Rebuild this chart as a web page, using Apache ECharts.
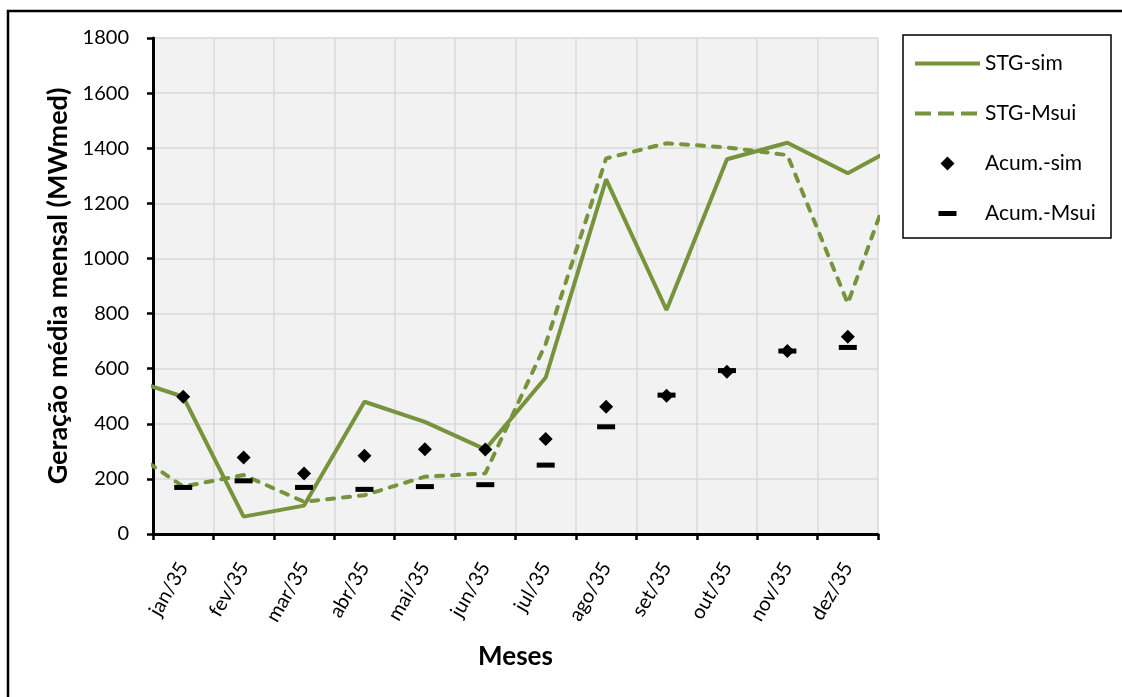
<!DOCTYPE html>
<html>
<head>
<meta charset="utf-8">
<script src="https://cdn.jsdelivr.net/npm/echarts@6/dist/echarts.min.js"></script>
<style>
  html, body { margin: 0; padding: 0; background: #fff; }
  #chart { width: 1122px; height: 697px; }
</style>
</head>
<body>
<div id="chart"></div>
<script>
const months = ['jan/35', 'fev/35', 'mar/35', 'abr/35', 'mai/35', 'jun/35',
  'jul/35', 'ago/35', 'set/35', 'out/35', 'nov/35', 'dez/35']
// monthly lines; the curve keeps going past the axis on both sides (dez/34, jan/36)
const stgSim = [498, 63, 103, 480, 407, 307, 568, 1287, 813, 1360, 1420, 1309]
const stgSimPrev = 570
const stgSimNext = 1429
const stgMsui = [172, 214, 117, 141, 208, 220, 690, 1363, 1418, 1403, 1375, 837]
const stgMsuiPrev = 322
const stgMsuiNext = 1441
const acumSim = [498, 278, 220, 284, 308, 307, 345, 462, 502, 589, 664, 716]
const acumMsui = [169, 193, 169, 162, 172, 179, 250, 389, 504, 593, 664, 677]

const GREEN = '#77933c'
const FONT = 'Lato, "Open Sans", sans-serif'

// line points sit mid-month on the numeric axis (month i -> i + 0.5)
function withEdges(prev, vals, next) {
  const all = [prev].concat(vals, [next])
  return all.map((v, i) => [i - 0.5, v])
}

const chart = echarts.init(document.getElementById('chart'), null, { renderer: 'canvas' })

chart.setOption({
  animation: false,
  backgroundColor: '#fff',
  textStyle: { fontFamily: FONT, color: '#000' },
  grid: {
    left: 153, top: 38, right: 244, bottom: 163,
    show: true, backgroundColor: '#f2f2f2', borderWidth: 0,
  },
  graphic: [
    { type: 'rect', z: -1, shape: { x: 8, y: 11, width: 1200, height: 800 },
      style: { fill: 'none', stroke: '#000', lineWidth: 2.5 } },
    { type: 'rect', shape: { x: 903, y: 35, width: 208, height: 203 },
      style: { fill: '#fff', stroke: '#000', lineWidth: 1.5 }, z: 0 },
  ],
  legend: {
    orient: 'vertical', left: 913, top: 53, padding: 0,
    itemWidth: 65, itemHeight: 14, itemGap: 29,
    textStyle: { fontSize: 21, color: '#000', fontFamily: FONT },
    z: 5,
    data: [
      { name: 'STG-sim', itemStyle: { opacity: 0 }, lineStyle: { width: 4 } },
      { name: 'STG-Msui', itemStyle: { opacity: 0 },
        lineStyle: { width: 4, type: [16, 7], cap: 'butt' } },
      { name: 'Acum.-sim', icon: 'path://M0,0M65,14M32.5,0L39.5,7L32.5,14L25.5,7Z' },
      { name: 'Acum.-Msui', icon: 'path://M0,0M65,14M23.5,4.5h18v5h-18Z' },
    ],
  },
  xAxis: [
    {
      type: 'value', min: 0, max: 12, interval: 1, position: 'bottom',
      axisLine: { show: true, lineStyle: { color: '#000', width: 3 } },
      axisTick: { show: true, length: 6, lineStyle: { color: '#000', width: 2.5 } },
      axisLabel: { show: false },
      splitLine: { show: true, lineStyle: { color: '#d9d9d9', width: 1.5 } },
    },
    {
      type: 'category', data: months, boundaryGap: true, position: 'bottom',
      axisLine: { show: false }, axisTick: { show: false }, splitLine: { show: false },
      axisLabel: { rotate: 60, fontSize: 20, color: '#000', margin: 30, interval: 0 },
      name: 'Meses', nameLocation: 'middle', nameGap: 110,
      nameTextStyle: { fontSize: 26, fontWeight: 'bold', color: '#000' },
    },
  ],
  yAxis: {
    type: 'value', min: 0, max: 1800, interval: 200,
    axisLine: { show: true, lineStyle: { color: '#000', width: 3 } },
    axisTick: { show: true, length: 6, lineStyle: { color: '#000', width: 2.5 } },
    axisLabel: { fontSize: 20, color: '#000', margin: 24, formatter: v => String(v) },
    splitLine: { show: true, lineStyle: { color: '#d9d9d9', width: 1.5 } },
    name: 'Geração média mensal (MWmed)', nameLocation: 'middle', nameGap: 79,
    nameTextStyle: { fontSize: 27, fontWeight: 'bold', color: '#000' },
  },
  series: [
    {
      name: 'STG-sim', type: 'line', xAxisIndex: 0,
      data: withEdges(stgSimPrev, stgSim, stgSimNext),
      symbol: 'none', lineStyle: { color: GREEN, width: 4 }, itemStyle: { color: GREEN },
      z: 2,
    },
    {
      name: 'STG-Msui', type: 'line', xAxisIndex: 0,
      data: withEdges(stgMsuiPrev, stgMsui, stgMsuiNext),
      symbol: 'none', lineStyle: { color: GREEN, width: 4, type: [7, 9], cap: 'round' },
      itemStyle: { color: GREEN },
      z: 2,
    },
    {
      name: 'Acum.-sim', type: 'scatter', xAxisIndex: 1,
      data: acumSim, symbol: 'diamond', symbolSize: 14,
      itemStyle: { color: '#000', opacity: 1 }, z: 4,
    },
    {
      name: 'Acum.-Msui', type: 'scatter', xAxisIndex: 1,
      data: acumMsui, symbol: 'rect', symbolSize: [18, 5],
      itemStyle: { color: '#000', opacity: 1 }, z: 3,
    },
  ],
})
</script>
</body>
</html>
